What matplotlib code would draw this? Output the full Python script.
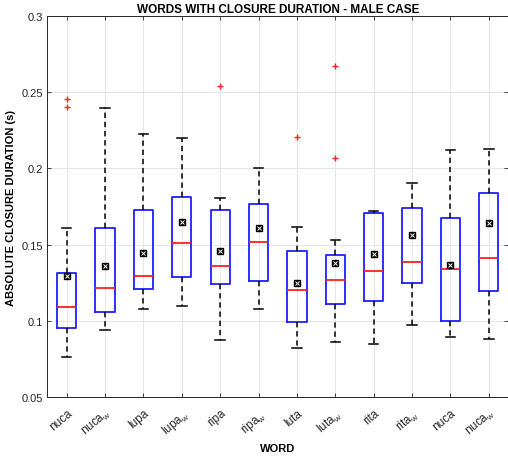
import matplotlib
matplotlib.use("Agg")
import matplotlib.pyplot as plt

plt.rcParams["font.family"] = ["Liberation Sans", "DejaVu Sans"]
plt.rcParams["mathtext.fontset"] = "custom"
plt.rcParams["mathtext.rm"] = "Liberation Sans"

# values
WORDS = ["nuca", r"nuca$_\mathrm{w}$", "lupa", r"lupa$_\mathrm{w}$",
         "ripa", r"ripa$_\mathrm{w}$", "luta", r"luta$_\mathrm{w}$",
         "rita", r"rita$_\mathrm{w}$", "nuca", r"nuca$_\mathrm{w}$"]
WHIS_LO = [0.0760, 0.0940, 0.1076, 0.1095, 0.0874, 0.1076,
           0.0822, 0.0863, 0.0846, 0.0970, 0.0892, 0.0883]
Q1 = [0.0953, 0.1060, 0.1209, 0.1290, 0.1239, 0.1259,
      0.0994, 0.1108, 0.1132, 0.1246, 0.0999, 0.1196]
MEDIAN = [0.1093, 0.1215, 0.1294, 0.1512, 0.1362, 0.1517,
          0.1200, 0.1270, 0.1325, 0.1388, 0.1338, 0.1410]
Q3 = [0.1312, 0.1607, 0.1727, 0.1814, 0.1729, 0.1766,
      0.1458, 0.1434, 0.1709, 0.1742, 0.1677, 0.1841]
WHIS_HI = [0.1607, 0.2396, 0.2226, 0.2197, 0.1806, 0.2005,
           0.1613, 0.1530, 0.1723, 0.1902, 0.2119, 0.2127]
MEAN = [0.1292, 0.1362, 0.1443, 0.1650, 0.1456, 0.1607,
        0.1248, 0.1381, 0.1440, 0.1563, 0.1366, 0.1640]
OUTLIERS = [[0.2455, 0.2401], [], [], [], [0.2539], [],
            [0.2204], [0.2674, 0.2066], [], [], [], []]

stats = []
for i in range(len(WORDS)):
    stats.append(dict(whislo=WHIS_LO[i], q1=Q1[i], med=MEDIAN[i], q3=Q3[i],
                      whishi=WHIS_HI[i], fliers=OUTLIERS[i]))

fig = plt.figure(figsize=(5.08, 4.60), dpi=100)
ax = fig.add_axes([0.0935, 0.1348, 0.9065, 0.8282])

pos = list(range(1, len(WORDS) + 1))
ax.bxp(stats, positions=pos, widths=0.5, showfliers=True,
       boxprops=dict(color="#1f1fff", lw=1.3),
       medianprops=dict(color="#ff1f1f", lw=1.3),
       whiskerprops=dict(color="black", lw=1.1, ls=(0, (3.5, 2.5))),
       capprops=dict(color="black", lw=1.1),
       flierprops=dict(marker="+", markeredgecolor="#ff2020",
                       markersize=4, lw=0, mew=1.0))
ax.plot(pos, MEAN, "s", color="black", ms=4, zorder=5)
ax.plot(pos, MEAN, "x", color="white", ms=2.5, mew=0.7, zorder=6)

ax.set_xlim(0.5, len(WORDS) + 0.5)
ax.set_ylim(0.05, 0.3)
ax.set_yticks([0.05, 0.1, 0.15, 0.2, 0.25, 0.3])
ax.set_yticklabels(["0.05", "0.1", "0.15", "0.2", "0.25", "0.3"])
ax.set_xticks(pos)
ax.set_xticklabels(WORDS, rotation=40, ha="right", va="top",
                   rotation_mode="anchor", fontsize=8.5)
ax.grid(True, color="#e6e6e6", lw=0.7)
ax.set_axisbelow(True)
ax.tick_params(direction="in", length=3, colors="#262626", labelsize=8,
               top=True, right=True, width=0.6)
ax.tick_params(axis="x", pad=7, labelsize=8.5)
for s in ax.spines.values():
    s.set_color("#262626")
    s.set_linewidth(0.7)

ax.set_title("WORDS WITH CLOSURE DURATION - MALE CASE", fontsize=8.5,
             fontweight="bold", pad=3)
ax.set_ylabel("ABSOLUTE CLOSURE DURATION (s)", fontsize=8,
              fontweight="bold", labelpad=4)
ax.set_xlabel("WORD", fontsize=8, fontweight="bold")
ax.xaxis.set_label_coords(0.5, -46 / 381)

# figure caption, cut by the bottom edge as in the source page
fig.text(0.0, -14 / 460, "Figure 4: Closure duration for the words containing",
         family=["Liberation Serif", "DejaVu Serif"], fontsize=15,
         ha="left", va="baseline")

fig.savefig("out.png", dpi=100)
